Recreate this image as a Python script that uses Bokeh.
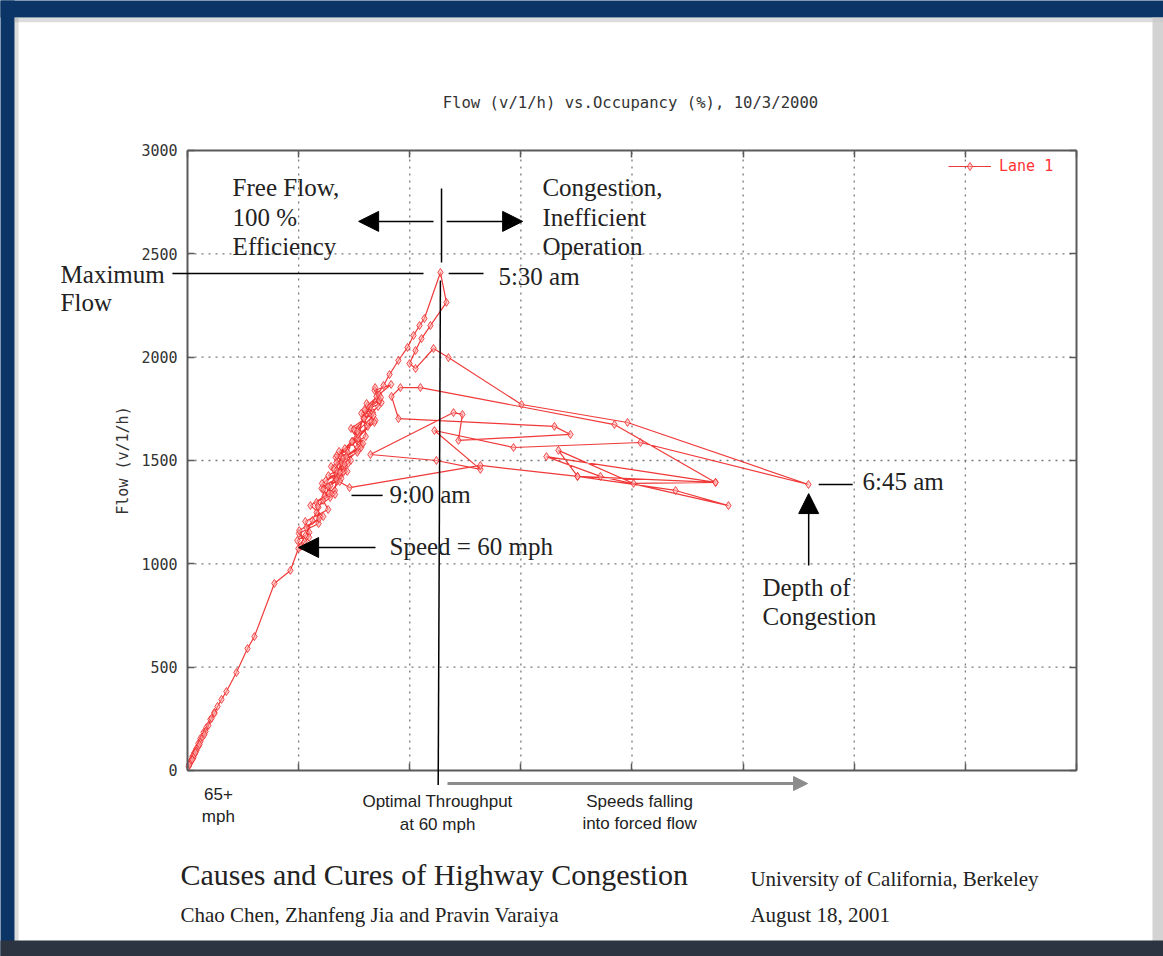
from bokeh.plotting import figure
from bokeh.models import (Label, Arrow, NormalHead, BoxAnnotation, FixedTicker,
                          Range1d, LinearAxis, Legend, LegendItem)
from bokeh.embed import file_html
from bokeh.resources import INLINE

# ---------------- data: occupancy (%) and flow (v/l/h), lane 1, 10/3/2000 ----
occupancy = [
    1.21, 1.03, 0.85, 0.72, 0.58, 0.49, 0.40, 0.31, 0.22, 0.18, 0.09, 0.05, 0.13, 0.09,
    0.18, 0.27, 0.22, 0.31, 0.40, 0.36, 0.49, 0.58, 0.54, 0.67, 0.81, 0.76, 0.94, 1.08,
    1.21, 1.35, 1.53, 1.75, 2.20, 2.70, 3.01, 3.91, 4.63, 4.99, 5.31, 5.62, 5.89, 6.16,
    6.43, 6.70, 6.93, 7.20, 7.42, 7.69, 7.92, 8.23, 8.50, 8.82, 9.09, 9.49, 9.90, 10.17,
    10.44, 10.66, 11.38, 11.65, 10.93, 10.53, 10.26, 9.99, 10.26, 11.07, 11.74, 15.03,
    19.80, 27.94, 20.38, 14.67, 11.11, 13.18, 11.20, 8.23, 11.97, 12.37, 12.19, 17.23,
    16.51, 9.49, 9.18, 9.58, 10.48, 19.21, 23.76, 20.07, 16.69, 17.55, 21.96, 24.34,
    18.58, 16.15, 23.76, 17.55, 13.18, 7.29,
    6.34, 7.23, 6.71, 7.69, 6.67, 7.63, 7.66, 7.51, 7.60, 8.45, 6.87, 7.03, 6.22, 7.01,
    7.00, 7.83, 7.36, 8.25, 8.73, 7.99, 7.72, 7.81, 6.70, 6.82, 6.03, 6.42, 6.33, 7.19,
    6.72, 7.68, 8.28, 8.11, 8.62, 9.16, 8.42, 8.63, 7.82, 8.11, 7.40, 7.64, 6.46, 6.70,
    6.63, 5.80, 5.81, 5.90, 5.01, 5.27, 5.03, 5.92, 5.86, 6.64, 6.05, 6.86, 7.35, 7.08,
    7.67, 8.41, 7.97, 8.70, 8.44, 8.58, 7.95, 8.02, 6.82, 7.06, 6.92, 6.11, 6.10, 6.33,
    5.30, 5.48, 4.94, 5.10, 5.47, 5.35, 6.11, 5.53, 6.36, 6.85, 6.59, 7.14, 7.90, 7.49,
    8.34, 8.06, 8.37, 7.64,
]
flow = [
    281, 247, 208, 184, 155, 131, 106, 87, 68, 53, 34, 19, 39, 29,
    48, 63, 53, 77, 97, 87, 116, 140, 126, 160, 189, 174, 218, 252,
    276, 310, 344, 382, 474, 590, 648, 905, 968, 1074, 1137, 1210, 1273, 1326,
    1379, 1437, 1490, 1539, 1592, 1645, 1703, 1761, 1810, 1863, 1916, 1984, 2047, 2105,
    2153, 2187, 2410, 2265, 2153, 2090, 2032, 1969, 1945, 2042, 1998, 1771,
    1684, 1384, 1587, 1563, 1645, 1457, 1500, 1529, 1732, 1723, 1597, 1626,
    1665, 1703, 1810, 1853, 1853, 1674, 1394, 1389, 1549, 1423, 1355, 1282,
    1423, 1519, 1394, 1423, 1476, 1369,
    1427, 1486, 1452, 1549, 1515, 1597, 1563, 1645, 1611, 1694, 1524, 1466, 1403, 1442,
    1510, 1578, 1655, 1723, 1781, 1742, 1636, 1563, 1490, 1423, 1365, 1321, 1374, 1447,
    1524, 1607, 1689, 1766, 1819, 1868, 1839, 1790, 1728, 1665, 1592, 1539, 1471, 1408,
    1355, 1297, 1249, 1195, 1147, 1108, 1161, 1219, 1278, 1336, 1389, 1442, 1500, 1558,
    1626, 1684, 1747, 1805, 1853, 1761, 1703, 1616, 1544, 1481, 1413, 1360, 1307, 1263,
    1205, 1152, 1113, 1084, 1128, 1176, 1229, 1282, 1340, 1398, 1457, 1519, 1582, 1650,
    1732, 1776, 1718, 1640,
]

y_ticks = [0, 500, 1000, 1500, 2000, 2500, 3000]
x_ticks = [0, 5, 10, 15, 20, 25, 30, 35, 40]
series_name = "Lane 1"
chart_title = "Flow (v/1/h) vs.Occupancy (%), 10/3/2000"
y_title = "Flow (v/1/h)"

RED = "#ee2424"
INK = "#222222"
GRAYLINE = "#5a5a5a"
SERIF = "Liberation Serif"
SANS = "Liberation Sans"
MONO = "DejaVu Sans Mono"

# The frame fills the whole canvas; the axes sit at fixed data locations so that
# the annotations around the plot box (which Bokeh clips to the frame) stay visible.
X0, X1 = 0, 40
Y0, Y1 = 0, 3000
p = figure(width=1163, height=956,
           x_range=Range1d(-8.414, 43.915), y_range=Range1d(-900, 3725.8),
           output_backend="svg", toolbar_location=None,
           min_border=0, min_border_left=0, min_border_right=0,
           min_border_top=0, min_border_bottom=0)
p.title.visible = False
p.background_fill_color = "white"
p.border_fill_color = "white"
p.outline_line_color = None
p.xgrid.visible = False
p.ygrid.visible = False

def style_axis(ax, labels=False):
    ax.axis_line_color = GRAYLINE
    ax.axis_line_width = 2
    ax.major_tick_in = 7
    ax.major_tick_out = 0
    ax.major_tick_line_color = GRAYLINE
    ax.major_tick_line_width = 1.5
    ax.minor_tick_line_color = None
    if not labels:
        ax.major_label_text_color = None

xa = p.xaxis[0]
xa.fixed_location = Y0
xa.bounds = (X0, X1)
xa.ticker = FixedTicker(ticks=x_ticks)
style_axis(xa)

ya = p.yaxis[0]
ya.fixed_location = X0
ya.bounds = (Y0, Y1)
ya.ticker = FixedTicker(ticks=y_ticks)
style_axis(ya, labels=True)
ya.major_label_text_font = MONO
ya.major_label_text_font_size = "15px"
ya.major_label_text_color = "#333333"
ya.major_label_standoff = 10
ya.axis_label = y_title
ya.axis_label_text_font = MONO
ya.axis_label_text_font_size = "15px"
ya.axis_label_text_font_style = "normal"
ya.axis_label_text_color = "#333333"
ya.axis_label_standoff = 6

top_ax = LinearAxis(fixed_location=Y1, bounds=(X0, X1), ticker=FixedTicker(ticks=x_ticks))
style_axis(top_ax)
p.add_layout(top_ax, "above")
right_ax = LinearAxis(fixed_location=X1, bounds=(Y0, Y1), ticker=FixedTicker(ticks=y_ticks))
style_axis(right_ax)
p.add_layout(right_ax, "right")

# dotted grid at the tick positions
gx = x_ticks[1:-1]
gy = y_ticks[1:-1]
p.segment(x0=gx, y0=[Y0] * len(gx), x1=gx, y1=[Y1] * len(gx),
          line_color="#7a7a7a", line_dash="2 5", line_width=1.3)
p.segment(x0=[X0] * len(gy), y0=gy, x1=[X1] * len(gy), y1=gy,
          line_color="#7a7a7a", line_dash="2 5", line_width=1.3)

# data
ln = p.line(occupancy, flow, line_color=RED, line_width=1.2, line_alpha=0.9)
pts = p.scatter(occupancy, flow, marker="diamond", size=8, line_color=RED, line_alpha=0.8,
                fill_color="#ffb0b0", fill_alpha=0.55)

legend = Legend(items=[LegendItem(label=series_name, renderers=[ln, pts])],
                location=(948, 780), border_line_color=None, background_fill_alpha=0,
                label_text_color="#ff3333", label_text_font=MONO, label_text_font_size="15px",
                glyph_width=43, glyph_height=20, margin=0, padding=0, label_standoff=8)
p.add_layout(legend)

# title
p.add_layout(Label(x=19.93, y=3228, text=chart_title, text_font=MONO, text_font_size="15.6px",
                   text_color="#333333", text_align="center", text_baseline="middle"))

# page frame (dark blue top / left, shaded right / bottom)
def box(l, r, b, t, c, a=1.0):
    p.add_layout(BoxAnnotation(left=l, right=r, bottom=b, top=t, fill_color=c,
                               fill_alpha=a, line_color=None, level="underlay"))

box(-9, 45, 3643, 3800, "#0b3566")          # top band
box(-9, -7.78, -1000, 3800, "#0b3566")      # left band
box(-7.78, 45, 3620, 3643, "#9a9a9a", 0.35)  # shadow under top band
box(-7.78, -7.6, -1000, 3643, "#9a9a9a", 0.35)
box(43.42, 45, -1000, 3643, "#c8c8c8", 0.8)  # right edge
box(-9, 45, -1000, -823, "#2b3440")          # bottom band

# annotation lines (black)
def seg(x0, y0, x1, y1, color="black", width=1.5, head=None):
    p.add_layout(Arrow(end=head, x_start=x0, y_start=y0, x_end=x1, y_end=y1,
                       line_color=color, line_width=width))

def head(sz=20, c="black"):
    return NormalHead(size=sz, fill_color=c, line_color=c)

seg(11.43, 2816, 11.43, 2458)              # top vertical divider
seg(11.38, 2371, 11.28, -70)               # optimal-throughput line
seg(11.07, 2657, 7.70, 2657, head=head())  # free-flow arrow
seg(11.66, 2657, 15.08, 2657, head=head()) # congestion arrow
seg(-0.68, 2405, 10.62, 2405)              # maximum flow leader
seg(11.75, 2405, 13.32, 2405)              # 5:30 leader
seg(7.38, 1331, 8.78, 1331)                # 9:00 leader
seg(8.46, 1079, 5.0, 1079, head=head())    # speed = 60 arrow
seg(28.40, 1384, 29.93, 1384)              # 6:45 leader
seg(27.95, 992, 27.95, 1340, head=head())  # depth arrow
seg(11.70, -63, 27.90, -63, color="#8c8c8c", width=3,
    head=NormalHead(size=14, fill_color="#8c8c8c", line_color="#8c8c8c"))

def txt(x, y, s, size="25px", font=SERIF, align="left", color=INK):
    p.add_layout(Label(x=x, y=y, text=s, text_font=font, text_font_size=size,
                       text_color=color, text_align=align, text_baseline="middle"))

txt(2.03, 2821, "Free Flow,")
txt(2.03, 2676, "100 %")
txt(2.03, 2536, "Efficiency")
txt(15.97, 2821, "Congestion,")
txt(15.97, 2676, "Inefficient")
txt(15.97, 2536, "Operation")
txt(-5.71, 2400, "Maximum")
txt(-5.71, 2265, "Flow")
txt(13.99, 2390, "5:30 am")
txt(9.09, 1336, "9:00 am")
txt(9.09, 1084, "Speed = 60 mph")
txt(30.37, 1398, "6:45 am")
txt(25.87, 886, "Depth of")
txt(25.87, 745, "Congestion")

txt(1.39, -116, "65+", size="17px", font=SANS, align="center")
txt(1.39, -223, "mph", size="17px", font=SANS, align="center")
txt(11.25, -150, "Optimal Throughput", size="17px", font=SANS, align="center")
txt(11.25, -261, "at 60 mph", size="17px", font=SANS, align="center")
txt(20.34, -150, "Speeds falling", size="17px", font=SANS, align="center")
txt(20.34, -256, "into forced flow", size="17px", font=SANS, align="center")

txt(-0.315, -503, "Causes and Cures of Highway Congestion", size="30px")
txt(-0.315, -697, "Chao Chen, Zhanfeng Jia and Pravin Varaiya", size="21px")
txt(25.33, -523, "University of California, Berkeley", size="21px")
txt(25.33, -697, "August 18, 2001", size="21px")

open("out.html", "w").write(file_html(p, INLINE))
